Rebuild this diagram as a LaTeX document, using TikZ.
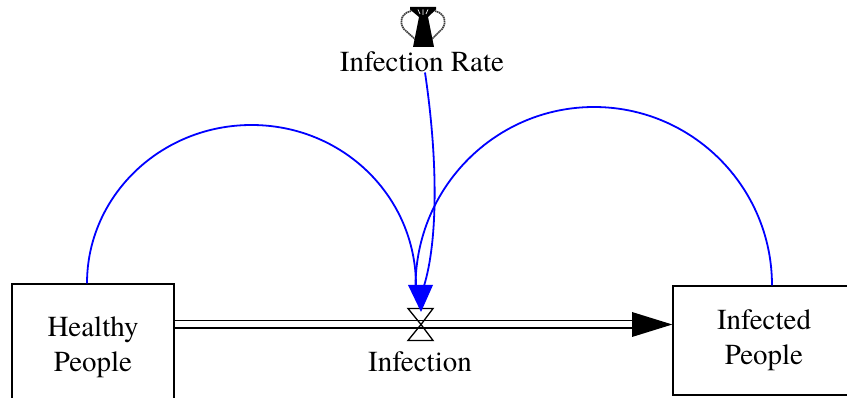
\documentclass[tikz,border=0pt]{standalone}
\usepackage{fontspec}
\setmainfont{TeX Gyre Termes}
\begin{document}
\begin{tikzpicture}[x=1pt,y=-1pt,
  lbl/.style={font=\fontsize{29}{35}\selectfont, align=center, inner sep=0pt},
  stock/.style={draw, line width=1.4pt, lbl},
  link/.style={draw=blue, line width=1.8pt},
  pipe/.style={draw, line width=1.4pt, double, double distance=6pt}]
\useasboundingbox (0,0) rectangle (847,398);
\clip (0,0) rectangle (847,398);
% stocks
\node[stock, minimum width=162pt, minimum height=126pt] (healthy) at (93,347) {Healthy\\People};
\node[stock, minimum width=182pt, minimum height=109pt] (infected) at (764,340.5) {Infected\\People};
% valve
\coordinate (valve) at (421,324.5);
\node[lbl, anchor=base] (infection) at (420,372) {Infection};
% flow pipe
\coordinate (pipeend) at (634,324.5);
\draw[pipe] (healthy.east |- valve) -- (pipeend);
\fill (infected.west |- valve) -- (632,312) -- (632,337) -- cycle;
\draw[line width=1.3pt, line join=miter] (valve) -- (408,308.5) -- (433,308.5) -- cycle;
\draw[line width=1.3pt, line join=miter] (valve) -- (408,340.5) -- (433,340.5) -- cycle;
% auxiliary
\node[lbl, anchor=base] (rate) at (422,72) {Infection Rate};
% urn icon
\draw[black!75, line width=1.7pt, dash pattern=on 1.5pt off 0.6pt] (411,11) .. controls (398,14) and (400,27) .. (406,31) -- (416,40);
\draw[black!75, line width=1.7pt, dash pattern=on 1.5pt off 0.6pt] (435,11) .. controls (448,14) and (446,27) .. (440,31) -- (431,40);
\fill (410,7) -- (436,7) -- (436,9.5) -- (428,17) -- (434,47) -- (413,47) -- (419,17) -- (410,9.5) -- cycle;
\draw[white, line width=0.7pt] (418,9.5) -- (420,14) (423,9.5) -- (423,15) (428,9.5) -- (426,14);
% links
\coordinate (tip) at (421,312);
\draw[link] ([xshift=-6pt]healthy.north) .. controls (87,196) and (160.6,125) .. (251.5,125)
  .. controls (342.4,125) and (416,196) .. (416,286);
\draw[link] ([xshift=8pt]infected.north) .. controls (772,187) and (692.3,107) .. (594,107)
  .. controls (495.7,107) and (416,187) .. (415.5,286);
\draw[link] ([xshift=3pt]rate.south) .. controls (438,160) and (438,240) .. (424,286);
\fill[blue] (408,285) -- (433,285) -- (tip) -- cycle;
\end{tikzpicture}
\end{document}
